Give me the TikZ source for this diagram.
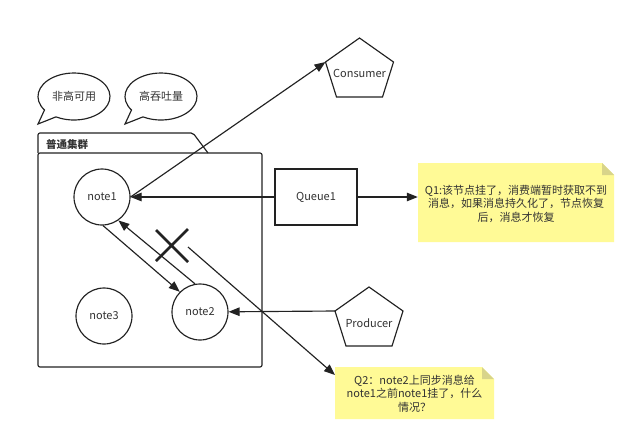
\documentclass[tikz,border=0pt]{standalone}
\usepackage{fontspec}
\setmainfont{Noto Sans CJK SC}
\usetikzlibrary{arrows.meta}
\definecolor{ink}{HTML}{222222}
\definecolor{txt}{HTML}{333333}
\definecolor{notefill}{HTML}{FFFA96}
\definecolor{notefold}{HTML}{D8D48A}

\begin{document}
\begin{tikzpicture}[x=1pt,y=1pt,
  line/.style={draw=ink,line width=1.15pt},
  arr/.style={line,-{Triangle[length=11pt,width=8.5pt]}},
  lbl/.style={font=\fontsize{11}{13.5}\selectfont,text=txt,inner sep=0pt},
  peer/.style={lbl,circle,line,minimum size=56pt},
  memo/.style={lbl,align=center},
  strike/.style={draw=ink,line width=2.6pt}
]
\useasboundingbox (0,0) rectangle (640,-445);
\fill[white] (0,0) rectangle (640,-445);

% speech bubbles
\draw[line,fill=white] (38,-124) -- (44.5,-110.0)
  arc[start angle=215,end angle=-120,x radius=36,y radius=23.5] -- cycle;
\node[lbl] (bubbleA) at (74,-96) {非高可用};
\draw[line,fill=white] (125,-124) -- (131.5,-110.0)
  arc[start angle=215,end angle=-120,x radius=36,y radius=23.5] -- cycle;
\node[lbl] (bubbleB) at (161,-96) {高吞吐量};

% cluster container with its tab
\draw[line,rounded corners=2pt] (38,-153) -- (38,-133) -- (193,-133) -- (208,-153);
\draw[line,rounded corners=2pt] (38,-153) rectangle (262,-367);
\node[lbl,font=\fontsize{10.5}{12}\selectfont\bfseries,anchor=west] (cluster) at (46,-144) {普通集群};

% cluster members
\node[peer] (note1) at (102,-197) {note1};
\node[peer] (note2) at (200,-312) {note2};
\node[peer] (note3) at (104,-316) {note3};

% queue
\node[lbl,line,minimum width=82pt,minimum height=56pt] (queue) at (316,-197) {Queue1};

% consumer pentagon
\coordinate (cT) at (359.5,-38);
\coordinate (cL) at (325.5,-62);
\coordinate (cBL) at (336.5,-97);
\coordinate (cBR) at (382.5,-97);
\coordinate (cR) at (393.5,-62);
\draw[line] (cT) -- (cL) -- (cBL) -- (cBR) -- (cR) -- cycle;
\node[lbl] (consumer) at (359.5,-73) {Consumer};

% producer pentagon
\coordinate (pT) at (369,-287);
\coordinate (pL) at (335,-311);
\coordinate (pBL) at (346,-346);
\coordinate (pBR) at (392,-346);
\coordinate (pR) at (403,-311);
\draw[line] (pT) -- (pL) -- (pBL) -- (pBR) -- (pR) -- cycle;
\node[lbl] (producer) at (369,-323) {Producer};

% sticky notes
\fill[notefill] (418,-163) -- (602,-163) -- (614,-175) -- (614,-242) -- (418,-242) -- cycle;
\fill[notefold] (602,-163) -- (602,-175) -- (614,-175) -- cycle;
\node[memo,minimum width=196pt,minimum height=79pt] (q1) at (516,-203.5)
  {Q1:该节点挂了，消费端暂时获取不到\\消息，如果消息持久化了，节点恢复\\后，消息才恢复};

\fill[notefill] (335,-367) -- (482,-367) -- (494,-379) -- (494,-419) -- (335,-419) -- cycle;
\fill[notefold] (482,-367) -- (482,-379) -- (494,-379) -- cycle;
\node[memo,minimum width=159pt,minimum height=52pt] (q2) at (414.5,-393.5)
  {Q2：note2上同步消息给\\note1之前note1挂了，什么\\情况？};

% connectors
\draw[arr] (queue) -- (note1);
\draw[arr] (queue.east) -- (queue.east -| q1.west);
\draw[arr] (note1.east) -- (cL);
\draw[arr] (pL) -- (note2);
\draw[arr] (note1.-88) -- (note2.135);
\draw[arr] (note2.100) -- (note1.-55);

% failed sync mark and its remark
\draw[strike] (156,-230) -- (188,-262) (188,-229) -- (156,-261);
\coordinate (lostfrom) at (188,-247);
\coordinate (q2tip) at (335,-375);
\draw[arr] (lostfrom) -- (q2tip);
\end{tikzpicture}
\end{document}
